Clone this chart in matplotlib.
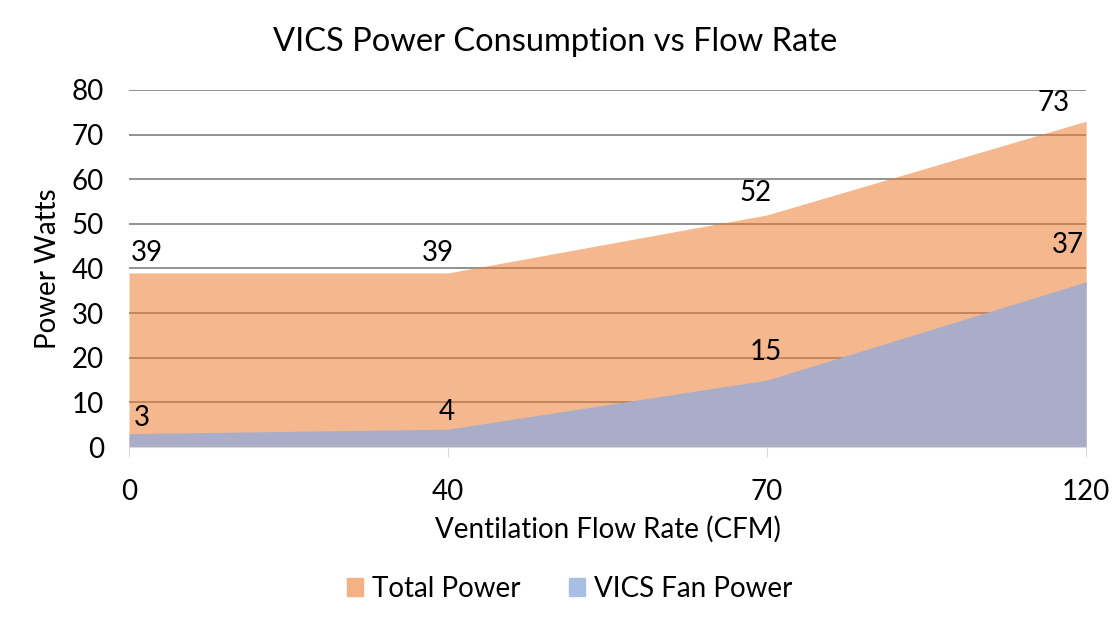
import matplotlib
matplotlib.use('Agg')
import matplotlib.pyplot as plt
from matplotlib.patches import Patch

plt.rcParams['font.family'] = ['Lato', 'DejaVu Sans']

# data
flow_rates = ['0', '40', '70', '120']
total_power = [39, 39, 52, 73]
fan_power = [3, 4, 15, 37]

# label nudges (pixels) to mimic the spreadsheet placement
total_offsets = [(18, 20), (-10, 20), (-12, 22), (-33, 18)]
fan_offsets = [(13, 16), (-1, 17), (-1, 28), (-18, 37)]

fig = plt.figure(figsize=(11.14, 6.2), dpi=100)
ax = fig.add_axes([0.1158, 0.279, 0.8592, 0.576])

x = list(range(len(flow_rates)))

ax.fill_between(x, 0, total_power, color='#ED7D31', alpha=0.55, lw=0, zorder=2)
ax.fill_between(x, 0, fan_power, color='#A9ADC8', lw=0, zorder=3)

for v in range(10, 90, 10):
    ax.axhline(v, color='#7F7F7F', lw=1.2, zorder=1)

for xi, v, (dx, dy) in zip(x, total_power, total_offsets):
    ax.annotate(str(v), xy=(xi, v), xytext=(dx, dy), textcoords='offset pixels',
                ha='center', va='center', fontsize=20, zorder=5)
for xi, v, (dx, dy) in zip(x, fan_power, fan_offsets):
    ax.annotate(str(v), xy=(xi, v), xytext=(dx, dy), textcoords='offset pixels',
                ha='center', va='center', fontsize=20, zorder=5)

ax.set_xlim(0, 3)
ax.set_ylim(0, 80)
ax.set_xticks(x)
ax.set_xticklabels(flow_rates)
ax.set_yticks(range(0, 90, 10))
for s in ['top', 'right', 'left']:
    ax.spines[s].set_visible(False)
ax.spines['bottom'].set_color('#D9D9D9')
ax.spines['bottom'].set_zorder(4)
ax.tick_params(axis='y', length=0, pad=18, labelsize=20)
ax.tick_params(axis='x', length=7, color='#D9D9D9', pad=16, labelsize=20)

ax.set_xlabel('Ventilation Flow Rate (CFM)', fontsize=20, labelpad=8)
ax.set_ylabel('Power Watts', fontsize=20, labelpad=8)
fig.text(0.498, 0.932, 'VICS Power Consumption vs Flow Rate', ha='center', va='center', fontsize=23.5)

handles = [Patch(color='#F4B183', label='Total Power'),
           Patch(color='#A9BEE3', label='VICS Fan Power')]
fig.legend(handles=handles, loc='center', bbox_to_anchor=(0.511, 0.05), ncol=2,
           frameon=False, fontsize=20, handlelength=0.6, handleheight=0.6,
           columnspacing=1.75, handletextpad=0.3)

fig.savefig('out.png', dpi=100)
plt.close(fig)
